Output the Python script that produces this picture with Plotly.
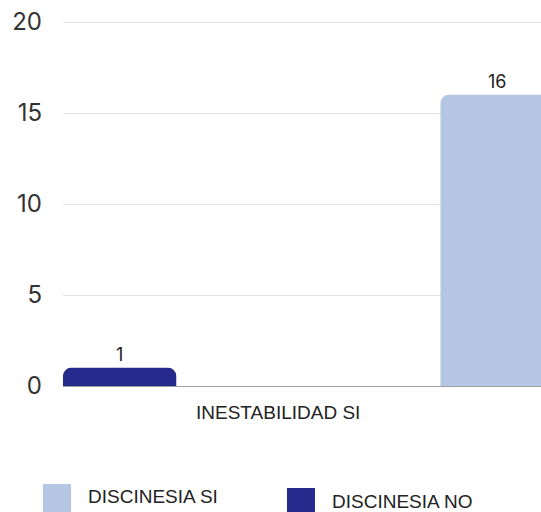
import plotly.graph_objects as go

categories = ["INESTABILIDAD SI"]
series_names = ["DISCINESIA NO", "DISCINESIA SI"]
values_no = [1]
values_si = [16]
y_ticks = [0, 5, 10, 15, 20]
legend_order = ["DISCINESIA SI", "DISCINESIA NO"]

COLOR_NO = "#262A8C"
COLOR_SI = "#B5C6E5"
colors = {"DISCINESIA NO": COLOR_NO, "DISCINESIA SI": COLOR_SI}

NUM_FONT = "Inter, Lato, sans-serif"
TXT_FONT = "Liberation Sans, Arial, sans-serif"

# plot area in page px: left 63, zero line at 386, top at 19
PLOT_W = 478
PLOT_H = 367
PX_PER_UNIT = 755

def px_x(px):
    return (px - 63) / PLOT_W

def px_y(py):
    return (386 - py) / PLOT_H

fig = go.Figure()
for name, vals in zip(series_names, [values_no, values_si]):
    fig.add_trace(go.Bar(
        x=categories, y=vals, name=name,
        marker=dict(color=colors[name], cornerradius=8, line=dict(width=0)),
        text=[str(v) for v in vals], textposition="outside",
        textfont=dict(family=NUM_FONT, size=18, color="#222222"),
        cliponaxis=False, showlegend=False,
    ))

fig.update_layout(
    width=541, height=512,
    margin=dict(l=63, r=0, t=19, b=126),
    paper_bgcolor="white", plot_bgcolor="white",
    barmode="group", bargap=0, bargroupgap=0.70,
    xaxis=dict(range=[-0.325, -0.325 + PLOT_W / PX_PER_UNIT], showticklabels=False,
               showgrid=False, zeroline=False, showline=False, fixedrange=True),
    yaxis=dict(range=[0, PLOT_H / 18.2], tickvals=y_ticks, showgrid=True, gridcolor="#E3E3E3",
               gridwidth=1, zeroline=True, zerolinecolor="#9E9E9E", zerolinewidth=1,
               showline=False, ticklabelstandoff=20,
               tickfont=dict(family=NUM_FONT, size=24, color="#333333")),
    font=dict(family=TXT_FONT),
)

# category label
fig.add_annotation(text=categories[0], xref="paper", yref="paper",
                   x=px_x(278), y=0, yanchor="top", xanchor="center",
                   yshift=-14, showarrow=False,
                   font=dict(family=TXT_FONT, size=19, color="#222222"))

# legend (custom large swatches)
leg_x = [43, 287]
leg_y = [484, 488]
for name, px, py in zip(legend_order, leg_x, leg_y):
    fig.add_shape(type="rect", xref="paper", yref="paper",
                  x0=px_x(px), x1=px_x(px + 28), y0=px_y(py + 28), y1=px_y(py),
                  fillcolor=colors[name], line=dict(width=0))
    fig.add_annotation(text=name, xref="paper", yref="paper",
                       x=px_x(px + 43), y=px_y(py + 13),
                       xanchor="left", yanchor="middle", showarrow=False,
                       font=dict(family=TXT_FONT, size=19, color="#222222"))

fig.write_html(
    "out.html",
    config={"displayModeBar": False},
    post_script="document.body.style.margin='0';document.body.style.overflow='hidden';",
)
